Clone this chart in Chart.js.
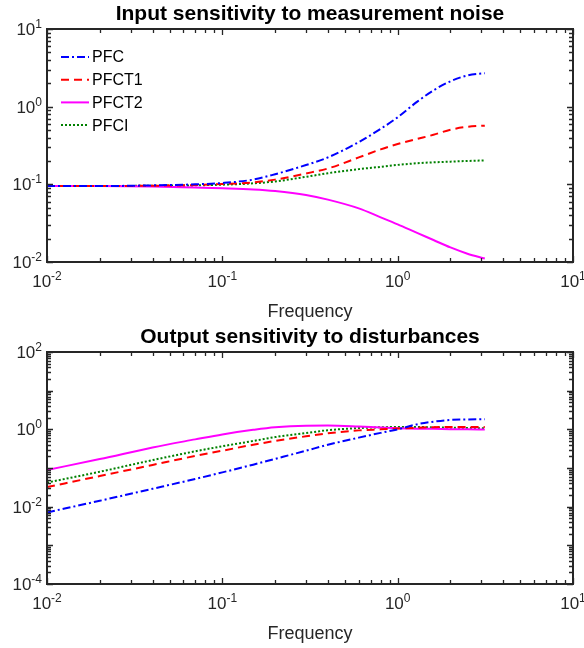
<!DOCTYPE html>
<html lang="en">
<head>
<meta charset="UTF-8" />
<script src="https://cdn.jsdelivr.net/npm/chart.js"></script>
<title>Sensitivity</title>
<style>
  body { margin: 0; background: #fff; }
  canvas { display: block; }
</style>
</head>
<body>
<canvas id="chartTop" width="584" height="324"></canvas>
<canvas id="chartBottom" width="584" height="324"></canvas>
<script>
// frequencies (rad/s) the curves were read at
const freq = [0.01, 0.02, 0.04, 0.07, 0.1, 0.15, 0.2, 0.3, 0.4, 0.6, 0.8, 1, 1.3, 1.6, 2, 2.5, 3.14];

const seriesNames = ["PFC", "PFCT1", "PFCT2", "PFCI"];

// input sensitivity to measurement noise
const noisePFC   = [0.095, 0.095, 0.097, 0.100, 0.104, 0.115, 0.135, 0.177, 0.222, 0.35, 0.518, 0.73, 1.17, 1.62, 2.12, 2.52, 2.7];
const noisePFCT1 = [0.095, 0.095, 0.096, 0.098, 0.101, 0.106, 0.115, 0.138, 0.16, 0.222, 0.282, 0.33, 0.385, 0.435, 0.505, 0.55, 0.57];
const noisePFCT2 = [0.095, 0.095, 0.094, 0.091, 0.089, 0.086, 0.082, 0.073, 0.0635, 0.049, 0.0376, 0.0305, 0.0235, 0.0192, 0.0154, 0.0128, 0.0111];
const noisePFCI  = [0.095, 0.095, 0.096, 0.097, 0.099, 0.103, 0.109, 0.125, 0.139, 0.157, 0.168, 0.178, 0.187, 0.192, 0.196, 0.2, 0.203];

// output sensitivity to disturbances
const distPFC   = [0.0071, 0.0142, 0.029, 0.052, 0.077, 0.122, 0.172, 0.28, 0.4, 0.61, 0.81, 1.0, 1.36, 1.58, 1.75, 1.8, 1.82];
const distPFCT1 = [0.032, 0.062, 0.12, 0.205, 0.28, 0.4, 0.5, 0.66, 0.79, 0.94, 1.0, 1.05, 1.1, 1.14, 1.15, 1.15, 1.15];
const distPFCT2 = [0.089, 0.17, 0.34, 0.55, 0.74, 0.97, 1.13, 1.24, 1.25, 1.18, 1.11, 1.07, 1.04, 1.03, 1.01, 1.0, 0.99];
const distPFCI  = [0.042, 0.08, 0.16, 0.27, 0.365, 0.5, 0.63, 0.8, 0.95, 1.08, 1.13, 1.15, 1.15, 1.12, 1.1, 1.08, 1.06];

// tick labels, as powers of ten
const xTickExp = [-2, -1, 0, 1];
const topYTickExp = [-2, -1, 0, 1];
const bottomYTickExp = [-4, -2, 0, 2];

const FONT = '"Liberation Sans", Arial, Helvetica, sans-serif';
const AXIS_COLOR = '#262626';

const lineStyles = [
  { color: '#0000ff', dash: [8, 3, 2, 3] },
  { color: '#ff0000', dash: [8, 5] },
  { color: '#ff00ff', dash: [] },
  { color: '#008000', dash: [2, 2] }
];

function makeDatasets(seriesList) {
  return seriesList.map((vals, i) => ({
    label: seriesNames[i],
    data: freq.map((f, j) => ({ x: f, y: vals[j] })),
    borderColor: lineStyles[i].color,
    backgroundColor: lineStyles[i].color,
    borderDash: lineStyles[i].dash,
    borderWidth: 2,
    pointRadius: 0,
    cubicInterpolationMode: 'monotone',
    fill: false
  }));
}

// "10" with a raised exponent
function drawPow(ctx, exp, x, y, align) {
  ctx.font = '17px ' + FONT;
  const wb = ctx.measureText('10').width;
  ctx.font = '12px ' + FONT;
  const es = String(exp);
  const we = ctx.measureText(es).width;
  const total = wb + we;
  let start = align === 'center' ? x - total / 2 : x - total;
  ctx.textAlign = 'left';
  ctx.textBaseline = 'alphabetic';
  ctx.font = '17px ' + FONT;
  ctx.fillText('10', start, y);
  ctx.font = '12px ' + FONT;
  ctx.fillText(es, start + wb, y - 7);
}

function decadeTicks(min, max) {
  const out = [];
  for (let d = Math.round(Math.log10(min)); d <= Math.round(Math.log10(max)); d++) {
    for (let m = 1; m <= 9; m++) {
      const v = m * Math.pow(10, d);
      if (v > max * 1.0001) break;
      out.push({ v: v, major: m === 1 });
    }
  }
  return out;
}

const matlabAxes = {
  id: 'matlabAxes',
  afterDraw(chart, args, opts) {
    const ctx = chart.ctx;
    const a = chart.chartArea;
    const xs = chart.scales.x, ys = chart.scales.y;
    ctx.save();
    ctx.strokeStyle = AXIS_COLOR;
    ctx.lineWidth = 1.3;
    ctx.setLineDash([]);

    // tick marks on all four sides, pointing in
    ctx.beginPath();
    decadeTicks(xs.min, xs.max).forEach(t => {
      const px = Math.round(xs.getPixelForValue(t.v)) + 0.5;
      const len = t.major ? 6 : 4;
      ctx.moveTo(px, a.bottom); ctx.lineTo(px, a.bottom - len);
      ctx.moveTo(px, a.top); ctx.lineTo(px, a.top + len);
    });
    decadeTicks(ys.min, ys.max).forEach(t => {
      const py = Math.round(ys.getPixelForValue(t.v)) + 0.5;
      const len = t.major ? 6 : 4;
      ctx.moveTo(a.left, py); ctx.lineTo(a.left + len, py);
      ctx.moveTo(a.right, py); ctx.lineTo(a.right - len, py);
    });
    ctx.stroke();

    // box
    ctx.lineWidth = 2;
    ctx.strokeRect(a.left, a.top, a.right - a.left, a.bottom - a.top);

    // tick labels
    ctx.fillStyle = AXIS_COLOR;
    opts.xExp.forEach(e => {
      drawPow(ctx, e, xs.getPixelForValue(Math.pow(10, e)), a.bottom + 25, 'center');
    });
    opts.yExp.forEach(e => {
      drawPow(ctx, e, a.left - 5, ys.getPixelForValue(Math.pow(10, e)) + 6, 'right');
    });

    // x label
    ctx.font = '18px ' + FONT;
    ctx.textAlign = 'center';
    ctx.fillText('Frequency', (a.left + a.right) / 2, a.bottom + 55);

    // title
    ctx.fillStyle = '#000';
    ctx.font = 'bold 21px ' + FONT;
    ctx.fillText(opts.title, (a.left + a.right) / 2, a.top - 9.5);

    // legend inside, upper left
    if (opts.legend) {
      chart.data.datasets.forEach((ds, i) => {
        const y = a.top + 28 + i * 22.7;
        ctx.strokeStyle = ds.borderColor;
        ctx.lineWidth = 2;
        ctx.setLineDash(ds.borderDash);
        ctx.beginPath();
        ctx.moveTo(a.left + 14, y);
        ctx.lineTo(a.left + 42, y);
        ctx.stroke();
        ctx.setLineDash([]);
        ctx.fillStyle = '#000';
        ctx.font = '16px ' + FONT;
        ctx.textAlign = 'left';
        ctx.textBaseline = 'middle';
        ctx.fillText(ds.label, a.left + 45, y + 1);
        ctx.textBaseline = 'alphabetic';
      });
    }
    ctx.restore();
  }
};

function makeChart(id, seriesList, yMin, yMax, yExp, title, legend, pad) {
  return new Chart(document.getElementById(id), {
    type: 'line',
    data: { datasets: makeDatasets(seriesList) },
    options: {
      responsive: false,
      animation: false,
      devicePixelRatio: 1,
      layout: { padding: pad },
      plugins: {
        legend: { display: false },
        tooltip: { enabled: false },
        matlabAxes: { xExp: xTickExp, yExp: yExp, title: title, legend: legend }
      },
      scales: {
        x: { type: 'logarithmic', min: 0.01, max: 10, display: false },
        y: { type: 'logarithmic', min: yMin, max: yMax, display: false }
      }
    },
    plugins: [matlabAxes]
  });
}

makeChart('chartTop', [noisePFC, noisePFCT1, noisePFCT2, noisePFCI], 0.01, 10, topYTickExp,
  'Input sensitivity to measurement noise', true, { top: 29, left: 47, right: 11, bottom: 62 });

makeChart('chartBottom', [distPFC, distPFCT1, distPFCT2, distPFCI], 0.0001, 100, bottomYTickExp,
  'Output sensitivity to disturbances', false, { top: 28, left: 47, right: 11, bottom: 64 });
</script>
</body>
</html>
